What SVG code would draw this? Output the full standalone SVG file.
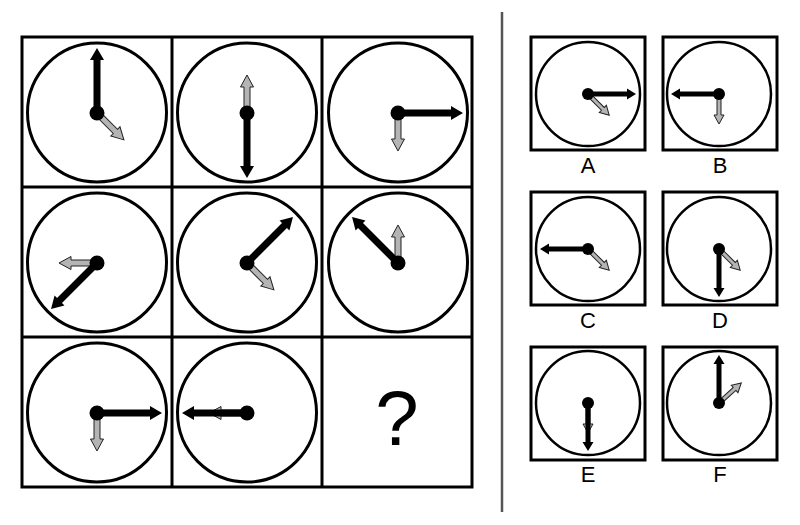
<svg xmlns="http://www.w3.org/2000/svg" xmlns:xlink="http://www.w3.org/1999/xlink" width="800" height="525" viewBox="0 0 800 525">
<style>
.frame{fill:none;stroke:#000;stroke-width:3}
.face{fill:#fff;stroke:#000;stroke-width:3}
.face-s{fill:#fff;stroke:#000;stroke-width:2.5}
.black{fill:#000}
.gray{fill:#b4b4b4;stroke:#222;stroke-width:1}
.lbl{font-family:"Liberation Sans",Arial,sans-serif;font-size:22px;text-anchor:middle;fill:#000}
.q{font-family:"Liberation Sans",Arial,sans-serif;font-size:78px;text-anchor:middle;fill:#000}
</style>
<defs>
<path id="bb" d="M-3.5,0 V-53 H-7 L0,-65 L7,-53 H3.5 V0 Z"/>
<path id="bg" d="M-3,0 V-26 H-6.5 L0,-38 L6.5,-26 H3 V0 Z"/>
<path id="sb" d="M-2.5,0 V-39 H-5.5 L0,-48 L5.5,-39 H2.5 V0 Z"/>
<path id="sg" d="M-2,0 V-21 H-5 L0,-30 L5,-21 H2 V0 Z"/>
</defs>
<rect width="800" height="525" fill="#fff"/>

<g id="grid">
<rect class="frame" x="22" y="37" width="450" height="450"/>
<line class="frame" x1="172" y1="37" x2="172" y2="487"/>
<line class="frame" x1="322" y1="37" x2="322" y2="487"/>
<line class="frame" x1="22" y1="187" x2="472" y2="187"/>
<line class="frame" x1="22" y1="337" x2="472" y2="337"/>
</g>

<g id="clock1" transform="translate(97,113)">
<circle class="face" r="69.5" cy="-0.5"/>
<use href="#bg" class="gray" transform="rotate(135)"/>
<use href="#bb" class="black"/>
<circle r="7.5" class="black"/>
</g>
<g id="clock2" transform="translate(247,113)">
<circle class="face" r="69.5" cy="-0.5"/>
<use href="#bg" class="gray"/>
<use href="#bb" class="black" transform="rotate(180)"/>
<circle r="7.5" class="black"/>
</g>
<g id="clock3" transform="translate(398,113)">
<circle class="face" r="69.5" cy="-0.5"/>
<use href="#bg" class="gray" transform="rotate(180)"/>
<use href="#bb" class="black" transform="rotate(90)"/>
<circle r="7.5" class="black"/>
</g>
<g id="clock4" transform="translate(97,263)">
<circle class="face" r="69.5" cy="-0.5"/>
<use href="#bg" class="gray" transform="rotate(270)"/>
<use href="#bb" class="black" transform="rotate(225)"/>
<circle r="7.5" class="black"/>
</g>
<g id="clock5" transform="translate(247,263)">
<circle class="face" r="69.5" cy="-0.5"/>
<use href="#bg" class="gray" transform="rotate(135)"/>
<use href="#bb" class="black" transform="rotate(45)"/>
<circle r="7.5" class="black"/>
</g>
<g id="clock6" transform="translate(398,263)">
<circle class="face" r="69.5" cy="-0.5"/>
<use href="#bg" class="gray"/>
<use href="#bb" class="black" transform="rotate(315)"/>
<circle r="7.5" class="black"/>
</g>
<g id="clock7" transform="translate(97,413)">
<circle class="face" r="69.5" cy="-0.5"/>
<use href="#bg" class="gray" transform="rotate(180)"/>
<use href="#bb" class="black" transform="rotate(90)"/>
<circle r="7.5" class="black"/>
</g>
<g id="clock8" transform="translate(247,413)">
<circle class="face" r="69.5" cy="-0.5"/>
<use href="#bg" class="gray" transform="rotate(270)"/>
<use href="#bb" class="black" transform="rotate(270)"/>
<circle r="7.5" class="black"/>
</g>
<g id="question">
<text class="q" x="397" y="445">?</text>
</g>

<g id="separator">
<line x1="502" y1="12" x2="502" y2="512" stroke="#555" stroke-width="2.5"/>
</g>

<g id="optionA">
<rect class="frame" x="531" y="37" width="114" height="113"/>
<g transform="translate(588,94)">
<circle class="face-s" r="52"/>
<use href="#sg" class="gray" transform="rotate(135)"/>
<use href="#sb" class="black" transform="rotate(90)"/>
<circle r="6" class="black"/>
</g>
<text class="lbl" x="588" y="173">A</text>
</g>
<g id="optionB">
<rect class="frame" x="663" y="37" width="114" height="113"/>
<g transform="translate(719,94)">
<circle class="face-s" r="52"/>
<use href="#sg" class="gray" transform="rotate(180)"/>
<use href="#sb" class="black" transform="rotate(270)"/>
<circle r="6" class="black"/>
</g>
<text class="lbl" x="720" y="173">B</text>
</g>
<g id="optionC">
<rect class="frame" x="531" y="192" width="114" height="113"/>
<g transform="translate(588,249)">
<circle class="face-s" r="52"/>
<use href="#sg" class="gray" transform="rotate(135)"/>
<use href="#sb" class="black" transform="rotate(270)"/>
<circle r="6" class="black"/>
</g>
<text class="lbl" x="588" y="328">C</text>
</g>
<g id="optionD">
<rect class="frame" x="663" y="192" width="114" height="113"/>
<g transform="translate(719,249)">
<circle class="face-s" r="52"/>
<use href="#sg" class="gray" transform="rotate(135)"/>
<use href="#sb" class="black" transform="rotate(180)"/>
<circle r="6" class="black"/>
</g>
<text class="lbl" x="720" y="328">D</text>
</g>
<g id="optionE">
<rect class="frame" x="531" y="347" width="114" height="113"/>
<g transform="translate(588,403)">
<circle class="face-s" r="52"/>
<use href="#sg" class="gray" transform="rotate(180)"/>
<use href="#sb" class="black" transform="rotate(180)"/>
<circle r="6" class="black"/>
</g>
<text class="lbl" x="588" y="482">E</text>
</g>
<g id="optionF">
<rect class="frame" x="663" y="347" width="114" height="113"/>
<g transform="translate(719,403)">
<circle class="face-s" r="52"/>
<use href="#sg" class="gray" transform="rotate(48)"/>
<use href="#sb" class="black"/>
<circle r="6" class="black"/>
</g>
<text class="lbl" x="720" y="482">F</text>
</g>
</svg>
